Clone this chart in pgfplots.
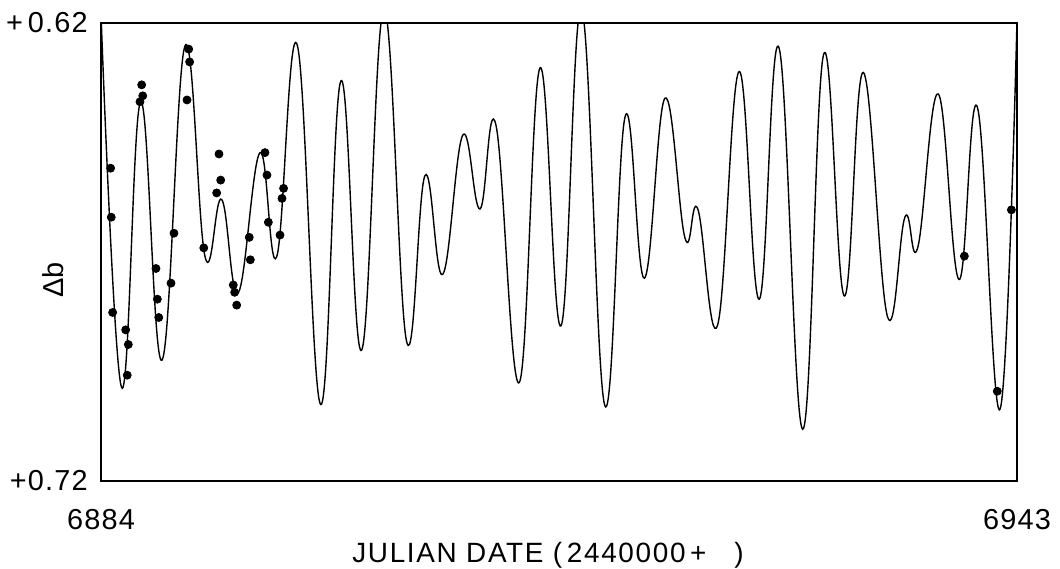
\documentclass[border=0pt]{standalone}
\usepackage{pgfplots}
\pgfplotsset{compat=1.18}
\usepackage{fontspec}
\setmainfont{Liberation Sans}
\pgfplotstableread{
x y
6884.00 0.6180
6885.33 0.6996
6886.56 0.6372
6887.93 0.6936
6889.41 0.6250
6890.70 0.6710
6891.77 0.6585
6892.84 0.6789
6894.24 0.6483
6895.32 0.6710
6896.64 0.6248
6898.15 0.7033
6899.46 0.6326
6900.79 0.6914
6902.23 0.6170
6903.69 0.6896
6904.87 0.6533
6906.01 0.6749
6907.30 0.6445
6908.41 0.6606
6909.44 0.6423
6910.94 0.6985
6912.28 0.6298
6913.63 0.6861
6914.96 0.6170
6916.46 0.7036
6917.77 0.6403
6919.00 0.6757
6920.33 0.6364
6921.62 0.6670
6922.44 0.6606
6923.72 0.6859
6925.10 0.6306
6926.40 0.6803
6927.67 0.6254
6929.20 0.7087
6930.55 0.6268
6931.88 0.6796
6933.10 0.6308
6934.65 0.6840
6935.79 0.6623
6936.61 0.6690
6937.93 0.6355
6939.27 0.6760
6940.45 0.6384
6941.91 0.7043
6943.00 0.6195
}\curvetable
\pgfplotstableread{
x y
6884.62 0.6517
6884.66 0.6624
6884.75 0.6832
6885.59 0.6870
6885.76 0.6902
6885.69 0.6969
6886.62 0.6335
6886.69 0.6359
6886.51 0.6372
6887.54 0.6736
6887.63 0.6803
6887.72 0.6843
6888.51 0.6768
6888.70 0.6659
6889.65 0.6257
6889.71 0.6285
6889.54 0.6368
6890.62 0.6691
6891.60 0.6486
6891.71 0.6543
6891.45 0.6571
6892.52 0.6772
6892.61 0.6788
6892.74 0.6816
6893.55 0.6668
6893.62 0.6717
6894.56 0.6483
6894.69 0.6532
6894.78 0.6635
6895.53 0.6663
6895.66 0.6583
6895.76 0.6561
6939.61 0.6709
6941.73 0.7004
6942.64 0.6608
}\obstable
\begin{document}
\begin{tikzpicture}
\path[use as bounding box] (-50.5bp,-44bp) rectangle (479.5bp,240.5bp);
\begin{axis}[
  at={(0,0)}, anchor=south west,
  scale only axis, width=458bp, height=229bp,
  xmin=6884, xmax=6943, ymin=0.62, ymax=0.72,
  y dir=reverse,
  axis line style={line width=0.8bp},
  major tick length=0pt,
  xtick={6884,6943}, xticklabels={6884,6943},
  ytick={0.62,0.72}, yticklabels={{+\,0.62},{+0.72}},
  xticklabel style={inner sep=0pt, anchor=north, yshift=-14bp,
    font=\fontsize{14.5}{16}\selectfont\addfontfeature{LetterSpace=4}},
  yticklabel style={inner sep=0pt, anchor=east, xshift=-6.5bp,
    font=\fontsize{14.5}{16}\selectfont\addfontfeature{LetterSpace=4}},
  xlabel={JULIAN DATE (\,2440000\,+\quad)},
  xlabel style={at={(axis description cs:0.488,-0.1769)}, anchor=base, inner sep=0pt,
    font=\fontsize{14}{16}\selectfont\addfontfeature{LetterSpace=6}},
  ylabel={Δb},
  ylabel style={at={(axis description cs:-0.0524,0.4389)}, anchor=center, rotate=0,
    font=\fontsize{14.5}{16}\selectfont},
  clip=true,
]
\addplot[black, line width=0.7bp, smooth, tension=0.7, no markers] table[x=x,y=y] {\curvetable};
\addplot[black, only marks, mark=*, mark size=2bp] table[x=x,y=y] {\obstable};
\end{axis}
\end{tikzpicture}
\end{document}
